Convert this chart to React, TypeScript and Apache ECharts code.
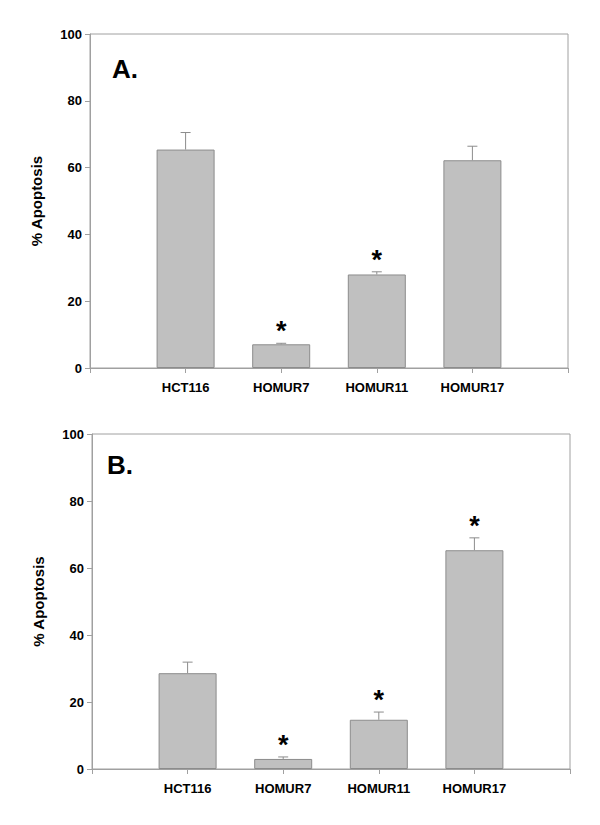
import React, { useEffect, useRef } from "react";
import * as echarts from "echarts";

const categories = ["", "HCT116", "HOMUR7", "HOMUR11", "HOMUR17", ""];
const valuesA = [65.4, 7.1, 28.0, 62.2];
const errorsA = [5.1, 0.3, 0.8, 4.2];
const starsA = [false, true, true, false];
const valuesB = [28.6, 3.0, 14.7, 65.3];
const errorsB = [3.3, 0.6, 2.3, 3.7];
const starsB = [false, true, true, true];
const yTicks = { min: 0, max: 100, interval: 20 };
const panelLabels = ["A.", "B."];

const FONT = "Arial, 'Liberation Sans', sans-serif";
const AXIS_COLOR = "#a0a0a0";

function barData(vals: number[]) {
  return ["-", ...vals, "-"];
}
function errData(vals: number[], errs: number[]) {
  return vals.map((v, i) => [i + 1, v, errs[i]]);
}
function starData(vals: number[], errs: number[], stars: boolean[]) {
  return vals
    .map((v, i) => (stars[i] ? [i + 1, v + errs[i]] : null))
    .filter((d) => d !== null);
}

export default function App() {
  const ref = useRef<HTMLDivElement>(null);
  useEffect(() => {
    if (!ref.current) return;
    const chart = echarts.init(ref.current, null, { renderer: "svg" });
    const grids = [
      { left: 90, top: 34, width: 478, height: 334 },
      { left: 92, top: 434, width: 478, height: 335 },
    ];
    const mkX = (gi: number) => ({
      type: "category",
      gridIndex: gi,
      data: categories,
      boundaryGap: false,
      axisLine: { lineStyle: { color: AXIS_COLOR, width: 1 } },
      axisTick: { show: true, length: 5, lineStyle: { color: AXIS_COLOR } },
      axisLabel: {
        color: "#000",
        fontWeight: "bold",
        fontSize: 13,
        fontFamily: FONT,
        margin: 13,
        interval: 0,
      },
      splitLine: { show: false },
    });
    const mkY = (gi: number) => ({
      type: "value",
      gridIndex: gi,
      min: yTicks.min,
      max: yTicks.max,
      interval: yTicks.interval,
      name: "% Apoptosis",
      nameLocation: "middle",
      nameGap: 46,
      nameTextStyle: {
        color: "#000",
        fontWeight: "bold",
        fontSize: 15,
        fontFamily: FONT,
      },
      axisLine: { show: true, lineStyle: { color: AXIS_COLOR, width: 1 } },
      axisTick: { show: true, length: 5, lineStyle: { color: AXIS_COLOR } },
      axisLabel: {
        color: "#000",
        fontWeight: "bold",
        fontSize: 13,
        fontFamily: FONT,
        margin: 8,
      },
      splitLine: { show: false },
    });
    const errRender = (params: any, api: any) => {
      const x = api.value(0);
      const v = api.value(1);
      const e = api.value(2);
      const base = api.coord([x, v]);
      const top = api.coord([x, v + e]);
      const style = { stroke: "#8c8c8c", lineWidth: 1 };
      return {
        type: "group",
        children: [
          { type: "line", shape: { x1: base[0], y1: base[1], x2: top[0], y2: top[1] }, style },
          { type: "line", shape: { x1: top[0] - 5, y1: top[1], x2: top[0] + 5, y2: top[1] }, style },
        ],
      };
    };
    const starRender = (params: any, api: any) => {
      const p = api.coord([api.value(0), api.value(1)]);
      return {
        type: "text",
        x: p[0],
        y: p[1] - 12,
        style: {
          text: "*",
          fill: "#000",
          font: "bold 27px " + FONT,
          textAlign: "center",
          textVerticalAlign: "middle",
        },
      };
    };
    const panels = [
      { vals: valuesA, errs: errorsA, stars: starsA },
      { vals: valuesB, errs: errorsB, stars: starsB },
    ];
    const series: any[] = [];
    panels.forEach((p, gi) => {
      series.push({
        type: "bar",
        xAxisIndex: gi,
        yAxisIndex: gi,
        data: barData(p.vals),
        barWidth: 58,
        itemStyle: { color: "#c0c0c0", borderColor: "#8c8c8c", borderWidth: 1 },
        z: 2,
      });
      series.push({
        type: "custom",
        xAxisIndex: gi,
        yAxisIndex: gi,
        data: errData(p.vals, p.errs),
        renderItem: errRender,
        z: 1,
      });
      series.push({
        type: "custom",
        xAxisIndex: gi,
        yAxisIndex: gi,
        data: starData(p.vals, p.errs, p.stars),
        renderItem: starRender,
        z: 3,
      });
    });
    chart.setOption({
      animation: false,
      backgroundColor: "#fff",
      grid: grids.map((g) => ({
        ...g,
        show: true,
        borderColor: AXIS_COLOR,
        borderWidth: 1,
        backgroundColor: "transparent",
      })),
      xAxis: [mkX(0), mkX(1)],
      yAxis: [mkY(0), mkY(1)],
      series,
      graphic: [
        {
          type: "text",
          left: 112,
          top: 56,
          style: { text: panelLabels[0], fill: "#000", font: "bold 26px " + FONT },
        },
        {
          type: "text",
          left: 107,
          top: 452,
          style: { text: panelLabels[1], fill: "#000", font: "bold 26px " + FONT },
        },
      ],
    });
    return () => chart.dispose();
  }, []);
  return (
    <div
      ref={ref}
      style={{ position: "absolute", left: 0, top: 0, width: 600, height: 825 }}
    />
  );
}
